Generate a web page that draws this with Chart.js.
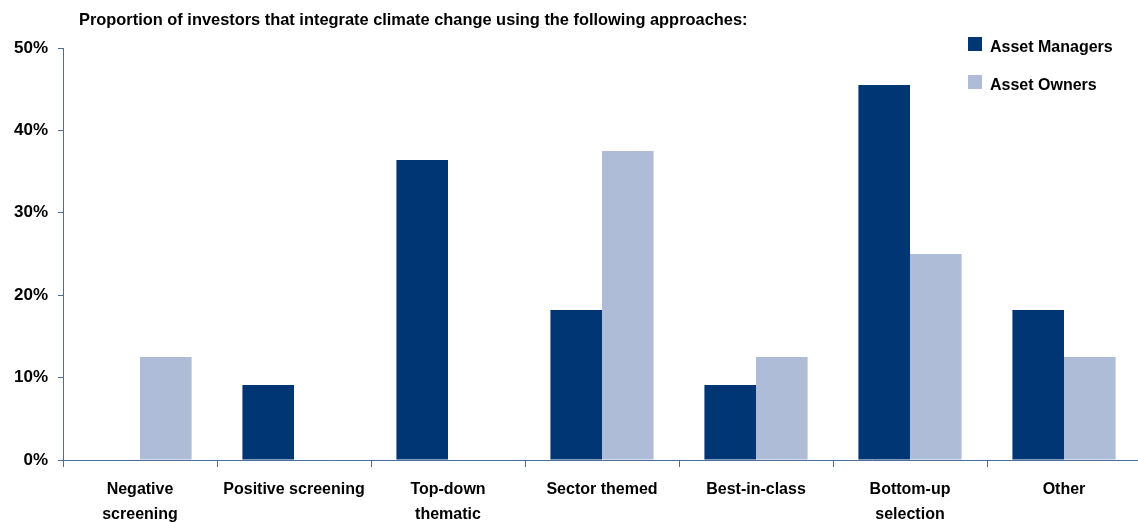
<!DOCTYPE html>
<html>
<head>
<meta charset="utf-8">
<script src="https://cdn.jsdelivr.net/npm/chart.js@4"></script>
<style>
  html, body { margin: 0; padding: 0; background: #fff; }
  #wrap { width: 1138px; height: 522px; overflow: hidden; }
</style>
</head>
<body>
<div id="wrap"><canvas id="chart" width="1141" height="522"></canvas></div>
<script>
const chartTitle = 'Proportion of investors that integrate climate change using the following approaches:';
const categories = [
    ['Negative', 'screening'],
    'Positive screening',
    ['Top-down', 'thematic'],
    'Sector themed',
    'Best-in-class',
    ['Bottom-up', 'selection'],
    'Other'
];
const assetManagers = [0, 9.1, 36.4, 18.2, 9.1, 45.5, 18.2];
const assetOwners = [12.5, 0, 0, 37.5, 12.5, 25, 12.5];
const yTicks = [0, 10, 20, 30, 40, 50];

const narrow = '"Liberation Sans Narrow", "Arial Narrow", "Liberation Sans", sans-serif';
const axisColor = '#4a6d9c';

// title + legend drawn by hand, top-left / top-right
const decorations = {
    id: 'decorations',
    afterDraw(chart) {
        const ctx = chart.ctx;
        ctx.save();
        ctx.fillStyle = '#000';
        ctx.textBaseline = 'middle';
        ctx.font = 'bold 16.4px ' + narrow;
        ctx.fillText(chartTitle, 79, 20);

        ctx.textBaseline = 'alphabetic';
        ctx.font = 'bold 16px ' + narrow;
        chart.data.datasets.forEach((ds, i) => {
            const y = 37 + i * 38;
            ctx.fillStyle = ds.backgroundColor;
            ctx.fillRect(968, y, 14, 14);
            ctx.fillStyle = '#000';
            ctx.fillText(ds.label, 990, y + 15);
        });
        ctx.restore();
    }
};

const ctx = document.getElementById('chart').getContext('2d');
new Chart(ctx, {
    type: 'bar',
    data: {
        labels: categories,
        datasets: [
            {
                label: 'Asset Managers',
                data: assetManagers,
                backgroundColor: '#003673'
            },
            {
                label: 'Asset Owners',
                data: assetOwners,
                backgroundColor: '#aebcd7'
            }
        ]
    },
    options: {
        responsive: false,
        animation: false,
        layout: { padding: { top: 48, left: 0, right: 0, bottom: 0 } },
        datasets: {
            bar: { categoryPercentage: 0.67, barPercentage: 1.0 }
        },
        scales: {
            x: {
                afterFit(scale) { scale.height = 62; },
                grid: {
                    drawOnChartArea: false,
                    drawTicks: true,
                    tickLength: 7,
                    color: axisColor
                },
                border: { color: axisColor, width: 1 },
                ticks: {
                    color: '#000',
                    padding: 10,
                    maxRotation: 0,
                    autoSkip: false,
                    font: { family: narrow, size: 16, weight: 'bold', lineHeight: 1.55 }
                }
            },
            y: {
                min: 0,
                max: 50,
                afterFit(scale) { scale.width = 63; },
                afterBuildTicks(scale) {
                    scale.ticks = yTicks.map((v) => ({ value: v }));
                },
                grid: {
                    drawOnChartArea: false,
                    drawTicks: true,
                    tickLength: 5,
                    color: axisColor
                },
                border: { color: axisColor, width: 1 },
                ticks: {
                    color: '#000',
                    padding: 10,
                    font: { family: '"Liberation Sans", Arial, sans-serif', size: 17, weight: 'bold' },
                    callback: (v) => v + '%'
                }
            }
        },
        plugins: {
            legend: { display: false },
            title: { display: false },
            tooltip: { enabled: false }
        }
    },
    plugins: [decorations]
});
</script>
</body>
</html>
